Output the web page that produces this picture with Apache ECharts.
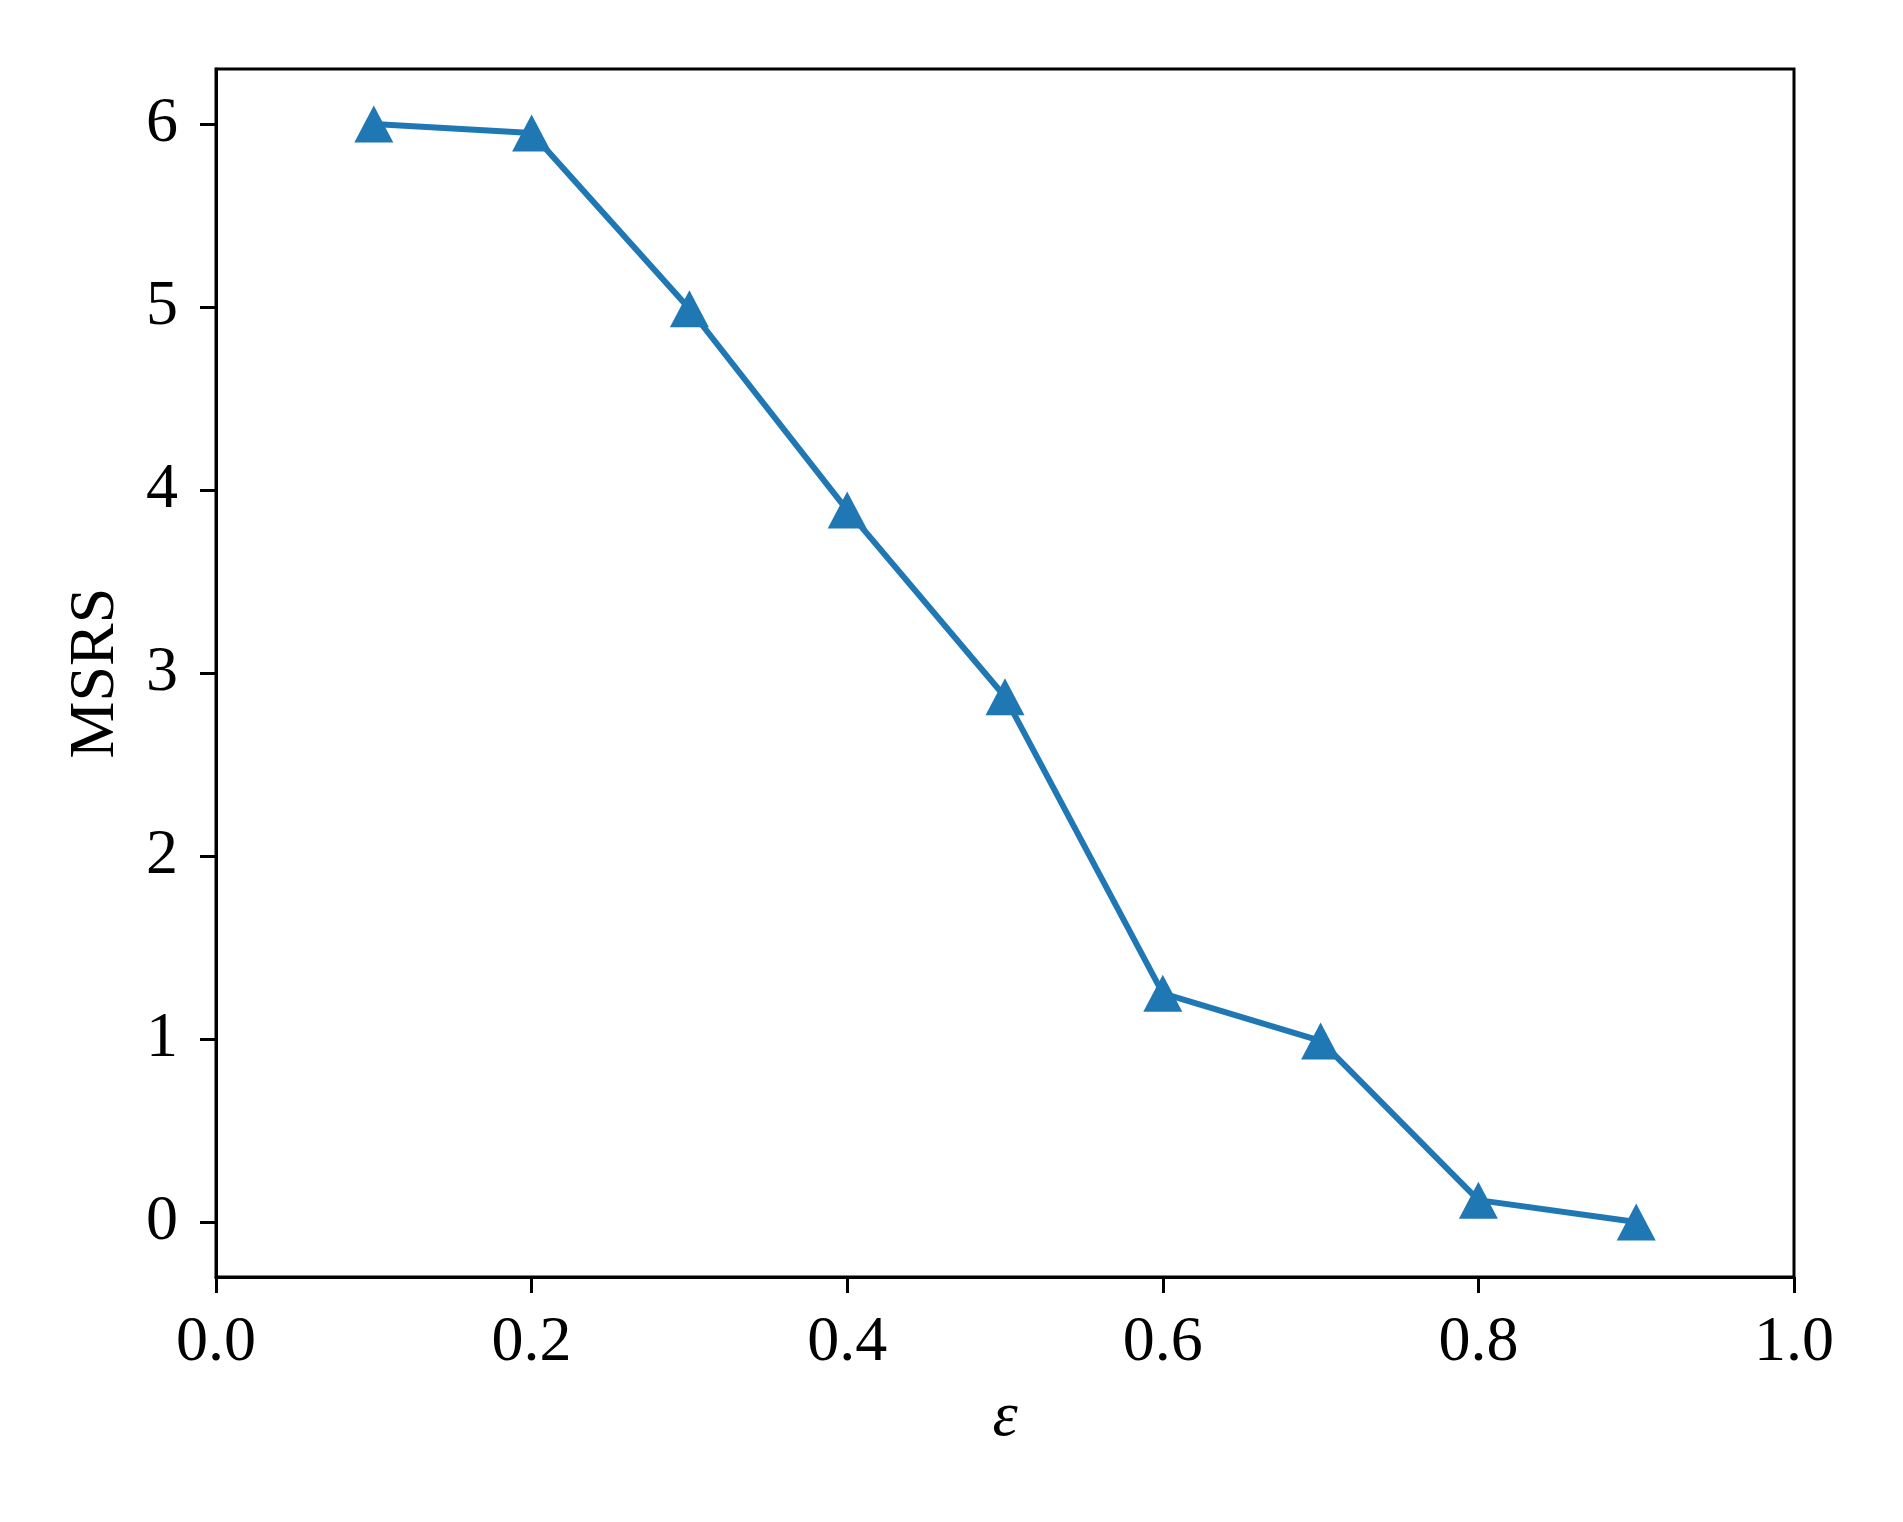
<!DOCTYPE html>
<html>
<head>
<meta charset="utf-8">
<script src="https://cdn.jsdelivr.net/npm/echarts@6/dist/echarts.min.js"></script>
<style>
html,body{margin:0;padding:0;background:#fff;}
#chart{width:1903px;height:1522px;}
</style>
</head>
<body>
<div id="chart"></div>
<script>
const epsilon = [0.1, 0.2, 0.3, 0.4, 0.5, 0.6, 0.7, 0.8, 0.9];
const msrs = [6.0, 5.95, 4.99, 3.89, 2.87, 1.25, 0.99, 0.12, 0.0];
const xTicks = [0.0, 0.2, 0.4, 0.6, 0.8, 1.0];
const yTicks = [0, 1, 2, 3, 4, 5, 6];

const font = "'Liberation Serif', 'Times New Roman', serif";
const fs = 64;
const chart = echarts.init(document.getElementById('chart'), null, {renderer: 'canvas'});
chart.setOption({
  backgroundColor: '#ffffff',
  animation: false,
  grid: {left: 216, right: 109, top: 69, bottom: 245, show: true, borderColor: '#000', borderWidth: 3, backgroundColor: 'transparent'},
  xAxis: {
    type: 'value', min: 0, max: 1.0, interval: 0.2,
    name: 'ε', nameLocation: 'middle', nameGap: 109,
    nameTextStyle: {fontFamily: font, fontSize: fs, fontStyle: 'italic', color: '#000'},
    axisLine: {show: true, onZero: false, lineStyle: {color: '#000', width: 3}},
    axisTick: {show: true, inside: false, length: 16, lineStyle: {color: '#000', width: 3},
      customValues: xTicks},
    axisLabel: {fontFamily: font, fontSize: fs, color: '#000', margin: 34,
      customValues: xTicks, formatter: v => v.toFixed(1)},
    splitLine: {show: false}
  },
  yAxis: {
    type: 'value', min: -0.3, max: 6.3,
    name: 'MSRS', nameLocation: 'middle', nameGap: 88, nameRotate: 90,
    nameTextStyle: {fontFamily: font, fontSize: fs, color: '#000'},
    axisLine: {show: true, onZero: false, lineStyle: {color: '#000', width: 3}},
    axisTick: {show: true, inside: false, length: 16, lineStyle: {color: '#000', width: 3},
      customValues: yTicks},
    axisLabel: {fontFamily: font, fontSize: fs, color: '#000', margin: 38,
      customValues: yTicks, formatter: v => String(Math.round(v))},
    splitLine: {show: false}
  },
  series: [
    {
      type: 'line',
      data: epsilon.map((x, i) => [x, msrs[i]]),
      symbol: 'triangle', symbolSize: [39, 37],
      showAllSymbol: true,
      lineStyle: {color: '#1f77b4', width: 6},
      itemStyle: {color: '#1f77b4'},
      z: 3
    }
  ]
});
</script>
</body>
</html>
